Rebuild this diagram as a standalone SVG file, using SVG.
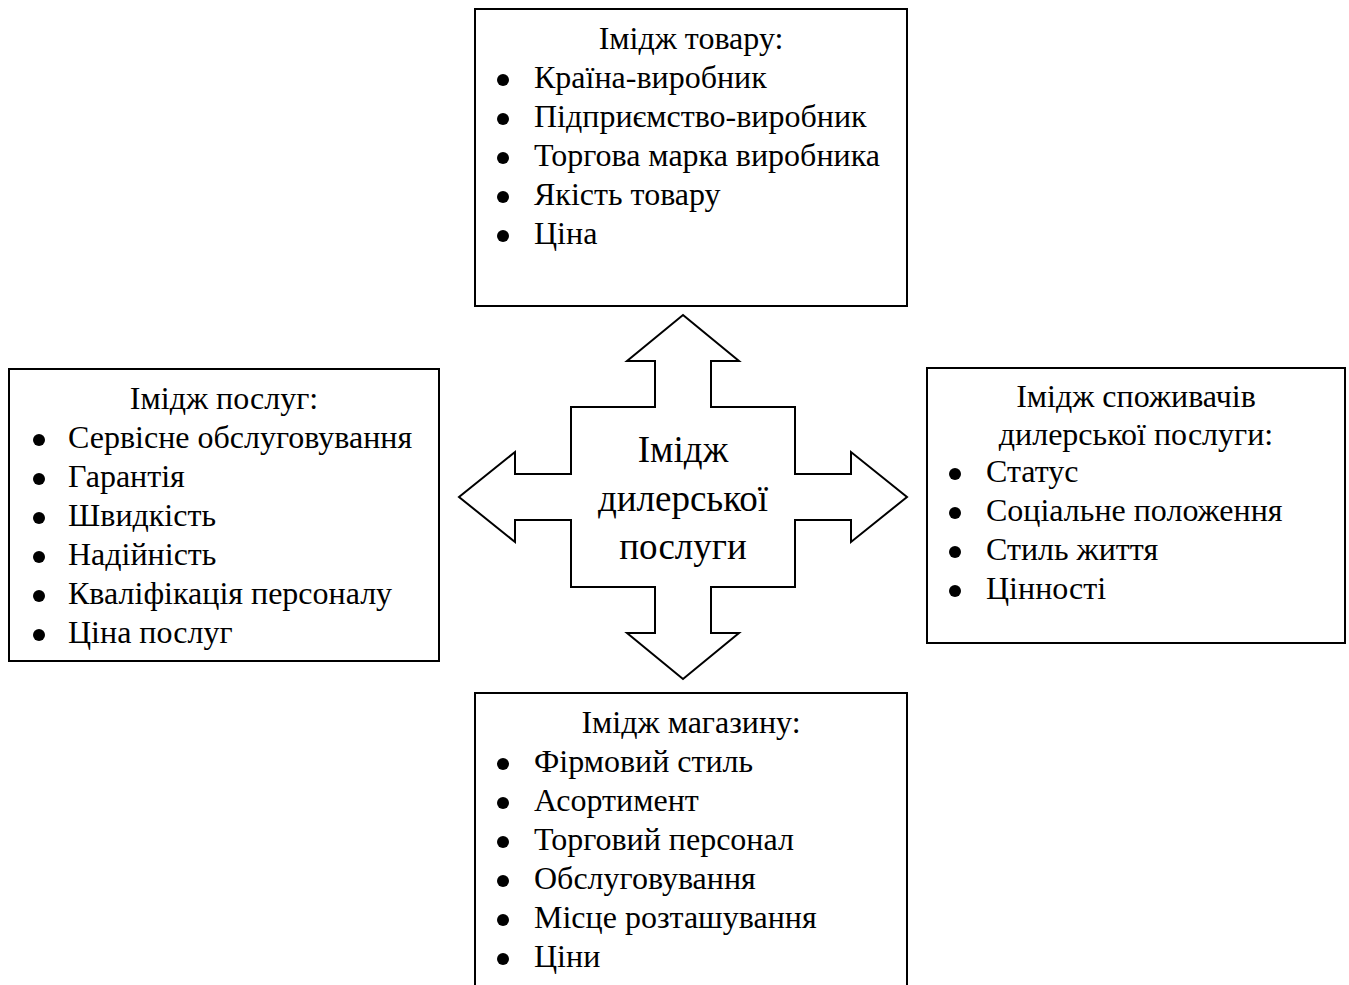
<svg xmlns="http://www.w3.org/2000/svg" width="1349" height="985" viewBox="0 0 1349 985">
<style>
.box{fill:#fff;stroke:#000;stroke-width:2}
.t{font-family:"Liberation Serif","Times New Roman",serif;font-size:32px;fill:#000}
.c{text-anchor:middle}
.big{font-family:"Liberation Serif","Times New Roman",serif;font-size:37px;fill:#000;text-anchor:middle}
.b{fill:#000}
.arrow{fill:#fff;stroke:#000;stroke-width:2;stroke-linejoin:miter}
</style>
<rect width="1349" height="985" fill="#fff"/>
<g id="connectors">
<path class="arrow" d="M683,315 L739,361 L711,361 L711,407 L795,407 L795,474 L851,474 L851,452 L907,497 L851,542 L851,520 L795,520 L795,587 L711,587 L711,633 L739,633 L683,679 L627,633 L655,633 L655,587 L571,587 L571,520 L515,520 L515,542 L459,497 L515,452 L515,474 L571,474 L571,407 L655,407 L655,361 L627,361 Z"/>
</g>
<g id="center">
<text class="big" x="683" y="462">Імідж</text>
<text class="big" x="683" y="511">дилерської</text>
<text class="big" x="683" y="559">послуги</text>
</g>
<g id="top">
<rect class="box" x="475" y="9" width="432" height="297"/>
<text class="t c" x="691" y="49">Імідж товару:</text>
<circle class="b" cx="503" cy="80" r="6"/><text class="t" x="534" y="88">Країна-виробник</text>
<circle class="b" cx="503" cy="119" r="6"/><text class="t" x="534" y="127">Підприємство-виробник</text>
<circle class="b" cx="503" cy="158" r="6"/><text class="t" x="534" y="166">Торгова марка виробника</text>
<circle class="b" cx="503" cy="197" r="6"/><text class="t" x="534" y="205">Якість товару</text>
<circle class="b" cx="503" cy="236" r="6"/><text class="t" x="534" y="244">Ціна</text>
</g>
<g id="left">
<rect class="box" x="9" y="369" width="430" height="292"/>
<text class="t c" x="224" y="409">Імідж послуг:</text>
<circle class="b" cx="39" cy="440" r="6"/><text class="t" x="68" y="448">Сервісне обслуговування</text>
<circle class="b" cx="39" cy="479" r="6"/><text class="t" x="68" y="487">Гарантія</text>
<circle class="b" cx="39" cy="518" r="6"/><text class="t" x="68" y="526">Швидкість</text>
<circle class="b" cx="39" cy="557" r="6"/><text class="t" x="68" y="565">Надійність</text>
<circle class="b" cx="39" cy="596" r="6"/><text class="t" x="68" y="604">Кваліфікація персоналу</text>
<circle class="b" cx="39" cy="635" r="6"/><text class="t" x="68" y="643">Ціна послуг</text>
</g>
<g id="right">
<rect class="box" x="927" y="368" width="418" height="275"/>
<text class="t c" x="1136" y="407">Імідж споживачів</text>
<text class="t c" x="1136" y="445">дилерської послуги:</text>
<circle class="b" cx="955" cy="474" r="6"/><text class="t" x="986" y="482">Статус</text>
<circle class="b" cx="955" cy="513" r="6"/><text class="t" x="986" y="521">Соціальне положення</text>
<circle class="b" cx="955" cy="552" r="6"/><text class="t" x="986" y="560">Стиль життя</text>
<circle class="b" cx="955" cy="591" r="6"/><text class="t" x="986" y="599">Цінності</text>
</g>
<g id="bottom">
<rect class="box" x="475" y="693" width="432" height="310"/>
<text class="t c" x="691" y="733">Імідж магазину:</text>
<circle class="b" cx="503" cy="764" r="6"/><text class="t" x="534" y="772">Фірмовий стиль</text>
<circle class="b" cx="503" cy="803" r="6"/><text class="t" x="534" y="811">Асортимент</text>
<circle class="b" cx="503" cy="842" r="6"/><text class="t" x="534" y="850">Торговий персонал</text>
<circle class="b" cx="503" cy="881" r="6"/><text class="t" x="534" y="889">Обслуговування</text>
<circle class="b" cx="503" cy="920" r="6"/><text class="t" x="534" y="928">Місце розташування</text>
<circle class="b" cx="503" cy="959" r="6"/><text class="t" x="534" y="967">Ціни</text>
</g>
</svg>
